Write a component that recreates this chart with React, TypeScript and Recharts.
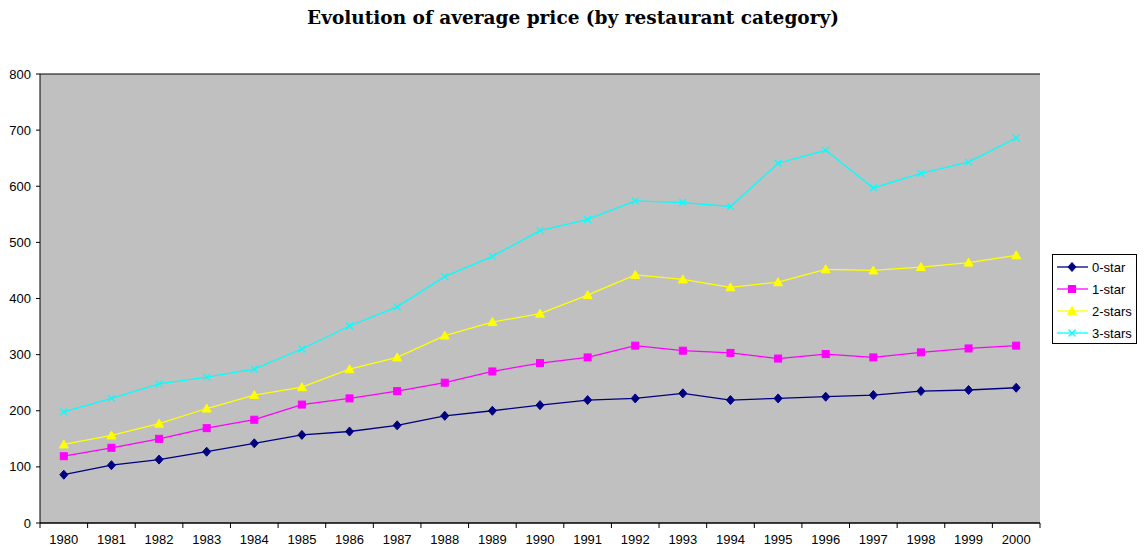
import React from "react"
import { LineChart, Line, XAxis, YAxis, CartesianGrid } from "recharts"

const years = ["1980", "1981", "1982", "1983", "1984", "1985", "1986", "1987", "1988", "1989", "1990",
    "1991", "1992", "1993", "1994", "1995", "1996", "1997", "1998", "1999", "2000"]
const zeroStar = [86, 103, 113, 127, 142, 157, 163, 174, 191, 200, 210, 219, 222, 231, 219, 222, 225, 228, 235, 237, 241]
const oneStar = [119, 134, 150, 169, 184, 211, 222, 235, 250, 270, 285, 295, 316, 307, 303, 293, 301, 295, 304, 311, 316]
const twoStars = [140, 156, 177, 204, 228, 242, 274, 295, 334, 358, 373, 406, 442, 434, 420, 429, 452, 450, 456, 464, 477]
const threeStars = [198, 222, 248, 260, 274, 310, 351, 385, 439, 475, 521, 541, 574, 571, 564, 641, 664, 597, 623, 643, 686]
const yTicks = [0, 100, 200, 300, 400, 500, 600, 700, 800]

const series = [
    { key: "s0", name: "0-star", color: "#000080", shape: "diamond", values: zeroStar },
    { key: "s1", name: "1-star", color: "#ff00ff", shape: "square", values: oneStar },
    { key: "s2", name: "2-stars", color: "#ffff00", shape: "triangle", values: twoStars },
    { key: "s3", name: "3-stars", color: "#00ffff", shape: "cross", values: threeStars },
]

const data = years.map((year, i) => {
    const row: Record<string, string | number> = { year }
    series.forEach(s => { row[s.key] = s.values[i] })
    return row
})

const W = 1146
const H = 550
const M = { top: 74, right: 106, bottom: 7, left: 0 }
const Y_W = 40
const step = (W - M.left - M.right - Y_W) / years.length
const SANS = "'Liberation Sans', Arial, sans-serif"

// draws one marker centred on (x, y)
function Marker({ shape, color, x, y }: { shape: string; color: string; x: number; y: number }) {
    if (shape === "diamond") {
        return <polygon points={`${x},${y - 4.5} ${x + 4},${y} ${x},${y + 4.5} ${x - 4},${y}`} fill={color} stroke={color} />
    }
    if (shape === "square") {
        return <rect x={x - 3.5} y={y - 3.5} width={7} height={7} fill={color} stroke={color} />
    }
    if (shape === "triangle") {
        return <polygon points={`${x},${y - 4.5} ${x + 4.5},${y + 3.5} ${x - 4.5},${y + 3.5}`} fill={color} stroke={color} />
    }
    return (
        <g stroke={color} strokeWidth={1.2}>
            <line x1={x - 3.5} y1={y - 3.5} x2={x + 3.5} y2={y + 3.5} />
            <line x1={x - 3.5} y1={y + 3.5} x2={x + 3.5} y2={y - 3.5} />
        </g>
    )
}

const XTick = (props: any) => {
    const { x, y, payload, index } = props
    return (
        <g>
            <line x1={x - step / 2} y1={y} x2={x - step / 2} y2={y + 5} stroke="#000" />
            {index === years.length - 1 && (
                <line x1={x + step / 2} y1={y} x2={x + step / 2} y2={y + 5} stroke="#000" />
            )}
            <text x={x} y={y + 21} textAnchor="middle" fontSize={13} fill="#000" fontFamily={SANS}>
                {payload.value}
            </text>
        </g>
    )
}

export default function App() {
    return (
        <div style={{ position: "absolute", left: 0, top: 0, width: W, height: H, background: "#fff" }}>
            <div style={{
                position: "absolute", left: 0, top: 7, width: W, textAlign: "center",
                fontFamily: "'DejaVu Serif', serif", fontWeight: "bold", fontSize: 18.5, color: "#000"
            }}>
                Evolution of average price (by restaurant category)
            </div>
            <LineChart width={W} height={H} data={data} margin={M}>
                <CartesianGrid vertical={false} fill="#c0c0c0" stroke="#000" strokeOpacity={1} />
                <XAxis dataKey="year" xAxisId="main" height={20} tickSize={0} tickMargin={0}
                    padding={{ left: step / 2, right: step / 2 }}
                    tick={<XTick />} interval={0} axisLine={{ stroke: "#000" }} tickLine={false} />
                <XAxis dataKey="year" xAxisId="top" orientation="top" height={0} tick={false}
                    tickLine={false} axisLine={{ stroke: "#808080" }} />
                <YAxis yAxisId="main" width={Y_W} domain={[0, 800]} ticks={yTicks} interval={0}
                    tickSize={4} tickMargin={5} axisLine={{ stroke: "#000" }} tickLine={{ stroke: "#000" }}
                    tick={{ fontSize: 13, fill: "#000", fontFamily: SANS }} />
                <YAxis yAxisId="right" orientation="right" width={0} domain={[0, 800]} tick={false}
                    tickLine={false} axisLine={{ stroke: "#808080", strokeWidth: 2 }} />
                {series.map(s => (
                    <Line key={s.key} xAxisId="main" yAxisId="main" dataKey={s.key} name={s.name}
                        stroke={s.color} strokeWidth={1.3} isAnimationActive={false}
                        dot={(p: any) => <Marker key={`${s.key}-${p.index}`} shape={s.shape} color={s.color} x={p.cx} y={p.cy} />}
                        activeDot={false} />
                ))}
            </LineChart>
            <div style={{
                position: "absolute", left: 1052, top: 254, width: 85, height: 90,
                border: "1px solid #000", background: "#fff", boxSizing: "border-box"
            }}>
                {series.map((s, i) => (
                    <div key={s.key} style={{
                        position: "absolute", left: 4, top: 3 + i * 22, height: 18, display: "flex", alignItems: "center",
                        fontFamily: SANS, fontSize: 13, color: "#000"
                    }}>
                        <svg width={33} height={18}>
                            <line x1={0} y1={9} x2={31} y2={9} stroke={s.color} strokeWidth={1.3} />
                            <Marker shape={s.shape} color={s.color} x={15} y={9} />
                        </svg>
                        <span style={{ marginLeft: 2 }}>{s.name}</span>
                    </div>
                ))}
            </div>
        </div>
    )
}
